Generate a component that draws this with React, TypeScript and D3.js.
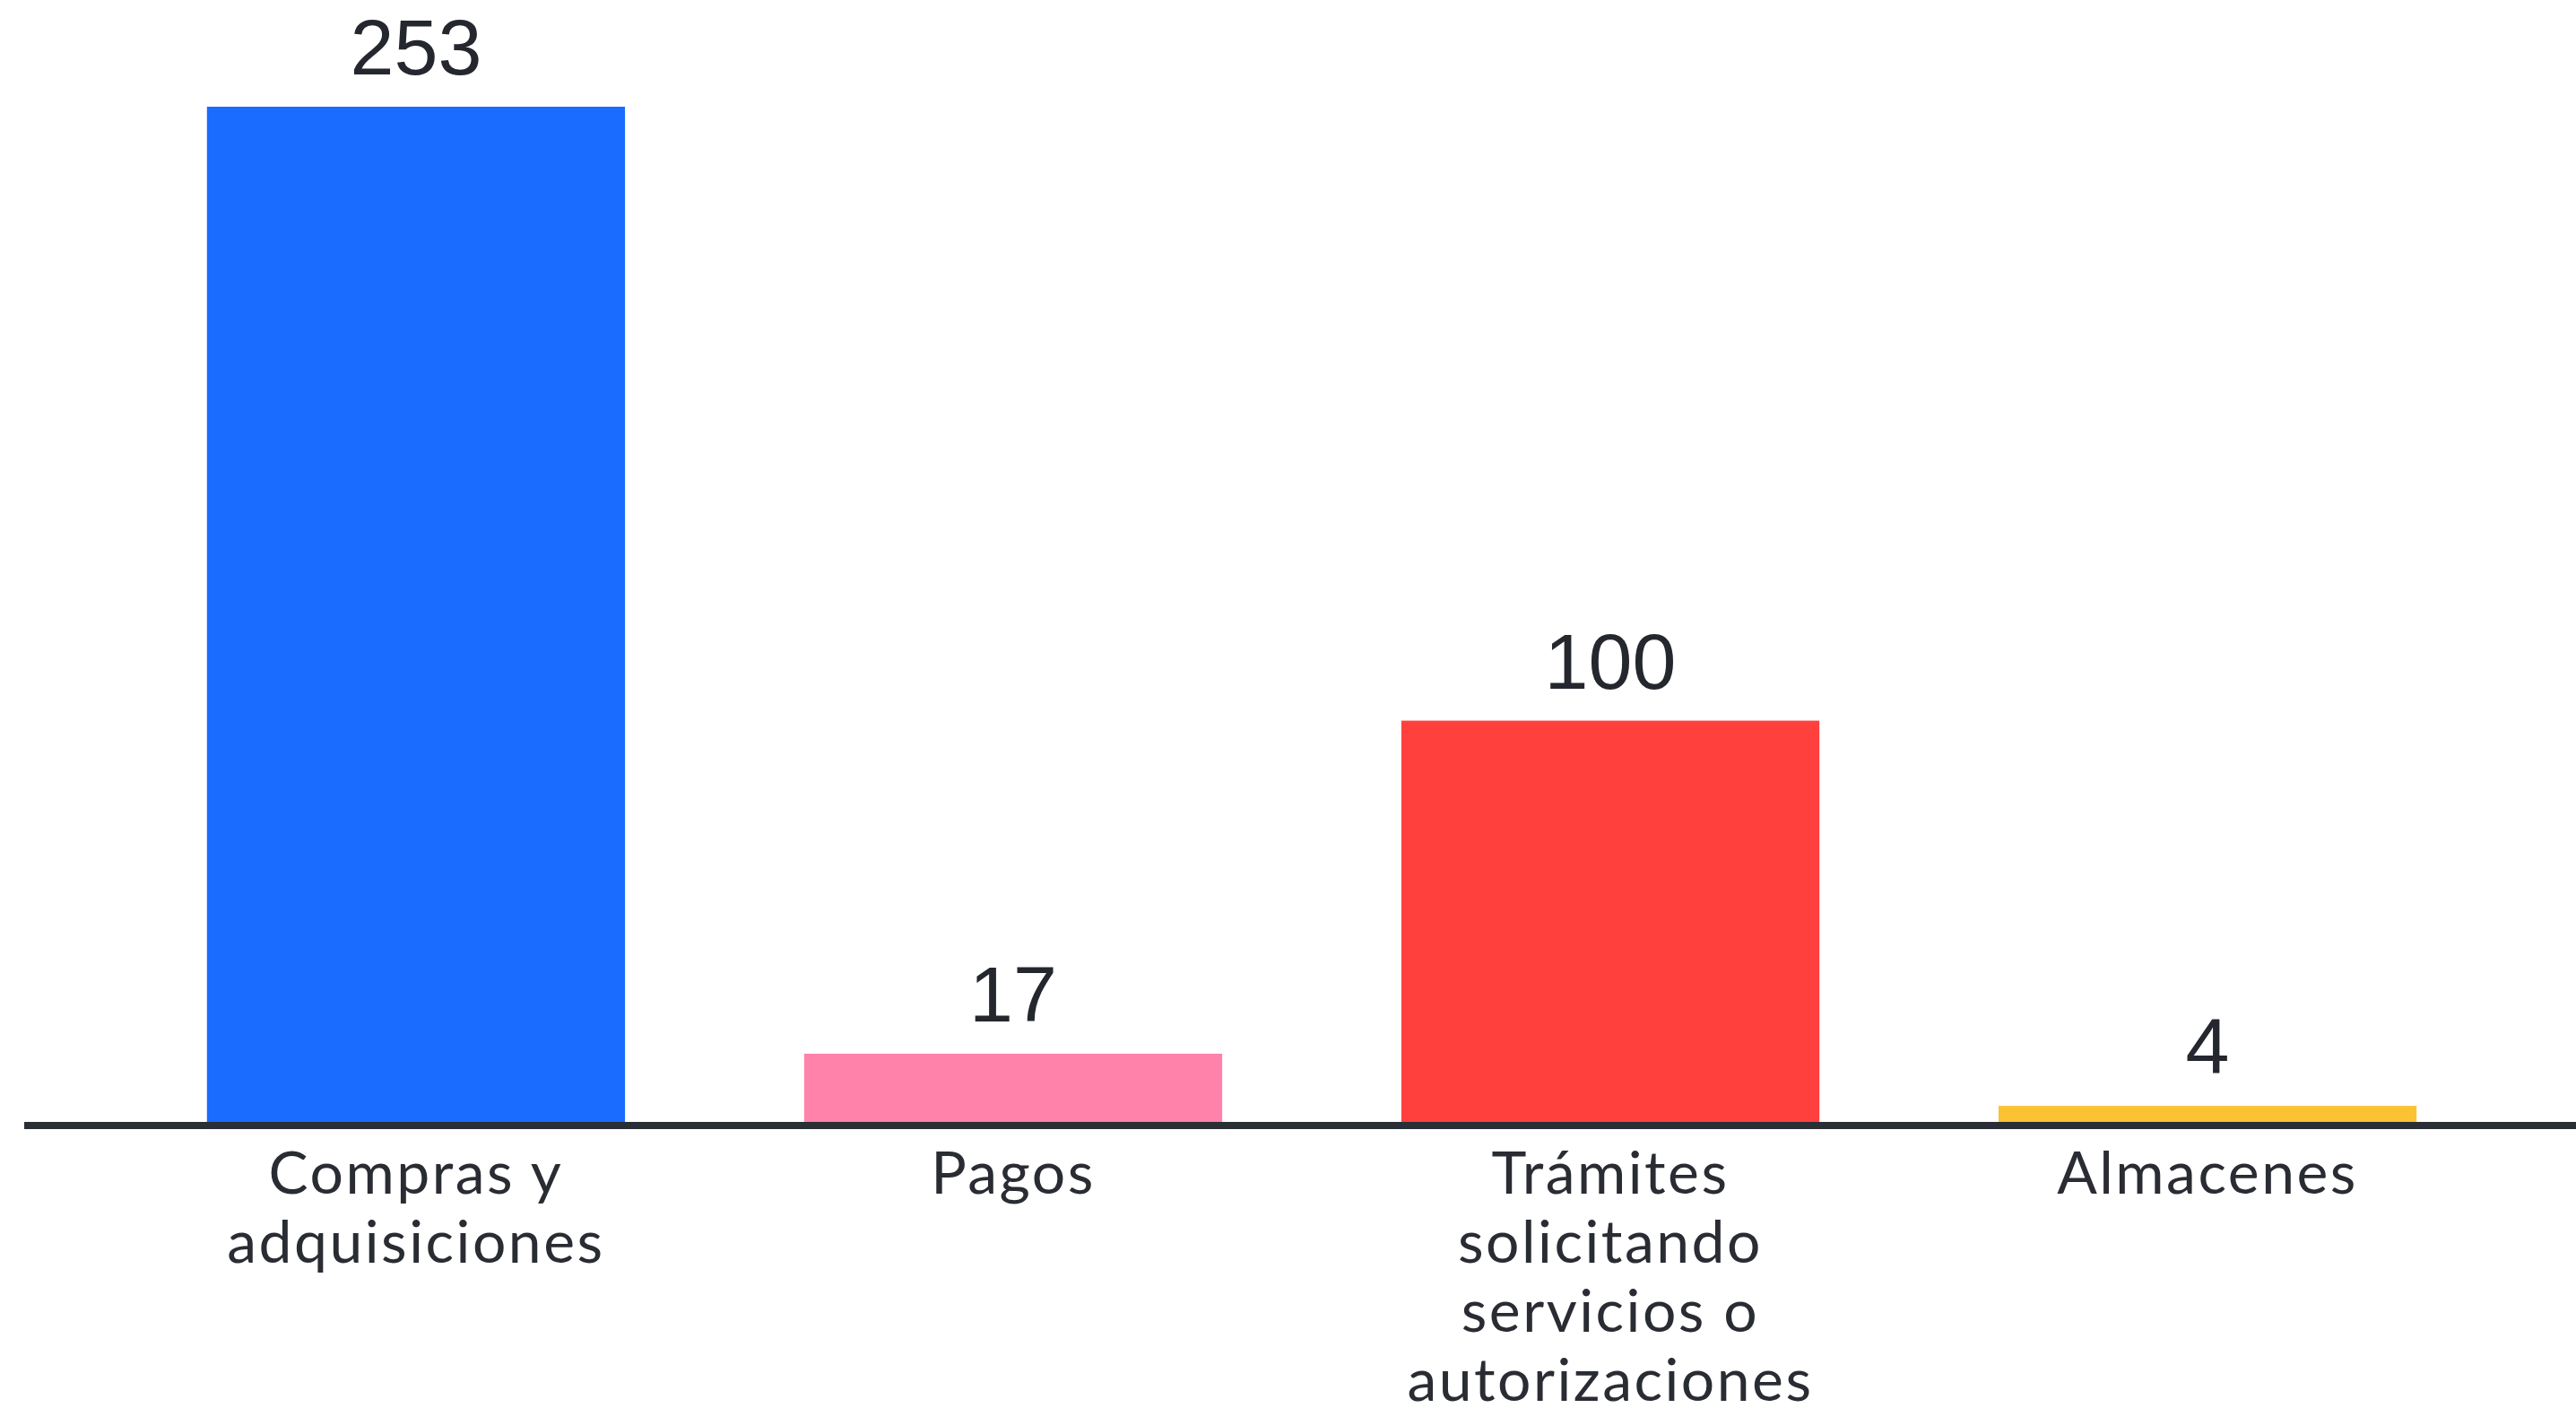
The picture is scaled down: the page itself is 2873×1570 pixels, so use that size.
import { useEffect } from "react";
import * as d3 from "d3";

// categories, values and colours
const categories = ["Compras y adquisiciones", "Pagos", "Trámites solicitando servicios o autorizaciones", "Almacenes"];
const labelLines = [
    ["Compras y", "adquisiciones"],
    ["Pagos"],
    ["Trámites", "solicitando", "servicios o", "autorizaciones"],
    ["Almacenes"],
];
const values = [253, 17, 100, 4];
const colors = ["#1a6bff", "#ff82ab", "#ff403d", "#fbc234"];

const W = 2873;
const H = 1570;

export default function App() {
    useEffect(() => {
        document.body.style.margin = "0";
    }, []);

    const baseY = 1251;
    const x = d3
        .scaleBand<string>()
        .domain(categories)
        .range([31, 2895])
        .paddingInner(0.3)
        .paddingOuter(0.3);

    const y = d3.scaleLinear().domain([0, 253]).range([baseY, 119]);

    return (
        <svg width={W} height={H} style={{ display: "block", background: "#fff" }}>
            <g>
                {categories.map((c, i) => (
                    <rect
                        key={c}
                        x={x(c)!}
                        y={y(values[i])}
                        width={x.bandwidth()}
                        height={baseY - y(values[i])}
                        fill={colors[i]}
                    />
                ))}
            </g>
            {/* value labels */}
            <g fontFamily="'Liberation Sans', Arial, sans-serif" fontSize={88} fill="#24272e" textAnchor="middle">
                {categories.map((c, i) => (
                    <text key={c} x={x(c)! + x.bandwidth() / 2} y={y(values[i]) - 36}>
                        {values[i]}
                    </text>
                ))}
            </g>
            {/* baseline */}
            <line x1={27} x2={W} y1={baseY + 4} y2={baseY + 4} stroke="#2a2e35" strokeWidth={8} />
            {/* category labels */}
            <g
                fontFamily="Lato, 'Open Sans', sans-serif"
                fontSize={66}
                letterSpacing={2.5}
                fill="#2a2c33"
                textAnchor="middle"
            >
                {categories.map((c, i) => (
                    <text key={c} x={x(c)! + x.bandwidth() / 2} y={1331}>
                        {labelLines[i].map((line, j) => (
                            <tspan key={j} x={x(c)! + x.bandwidth() / 2} dy={j === 0 ? 0 : 77}>
                                {line}
                            </tspan>
                        ))}
                    </text>
                ))}
            </g>
        </svg>
    );
}
